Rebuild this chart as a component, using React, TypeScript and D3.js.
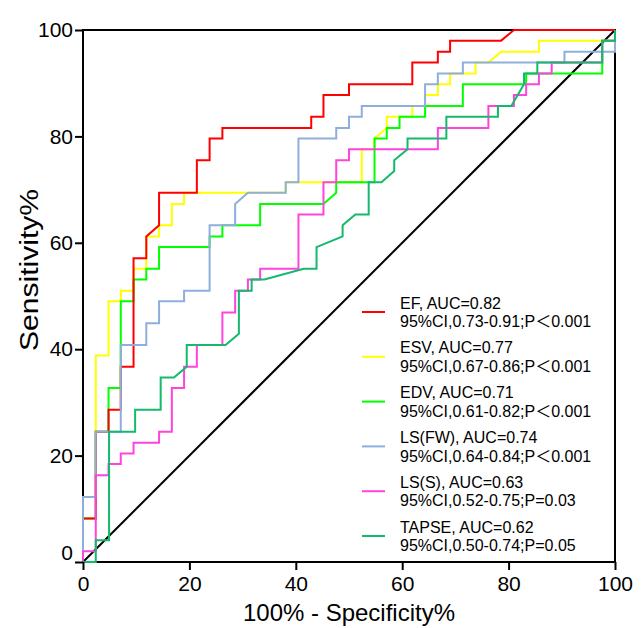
import React, { useRef, useEffect } from 'react';
import * as d3 from 'd3';

// ROC points: [100% - specificity, sensitivity]
const efPoints = [[0,0],[0,8.2],[2.4,8.2],[2.4,24.5],[4.8,24.5],[4.8,28.6],[7.1,28.6],[7.1,36.7],[9.5,36.7],[9.5,57.1],[11.9,57.1],[11.9,61.2],[14.3,63.3],[14.3,69.4],[21.4,69.4],[21.4,75.5],[23.8,75.5],[23.8,79.6],[26.2,79.6],[26.2,81.6],[42.9,81.6],[42.9,83.7],[45.2,83.7],[45.2,87.8],[50,87.8],[50,89.8],[61.9,89.8],[61.9,93.9],[66.7,93.9],[66.7,95.9],[69,95.9],[69,98],[78.6,98],[81,100],[100,100]];
const esvPoints = [[0,0],[0,12.2],[2.4,12.2],[2.4,38.8],[4.8,38.8],[4.8,49],[7.1,49],[7.1,51],[9.5,51],[9.5,55.1],[11.9,55.1],[11.9,61.2],[14.3,61.2],[14.3,63.3],[16.7,63.3],[16.7,67.3],[19,67.3],[19,69.4],[38.1,69.4],[38.1,71.4],[52.4,71.4],[52.4,77.6],[54.8,77.6],[54.8,79.6],[57.1,81.6],[57.1,83.7],[61.9,83.7],[61.9,85.7],[64.3,85.7],[64.3,87.8],[66.7,87.8],[66.7,89.8],[69,89.8],[69,91.8],[73.8,91.8],[73.8,93.9],[76.2,93.9],[78.6,95.9],[85.7,95.9],[85.7,98],[100,98],[100,100]];
const edvPoints = [[0,0],[0,8.2],[2.4,8.2],[2.4,24.5],[4.8,24.5],[4.8,32.7],[7.1,32.7],[7.1,49],[9.5,49],[9.5,53.1],[11.9,53.1],[11.9,55.1],[14.3,55.1],[14.3,59.2],[23.8,59.2],[23.8,61.2],[26.2,61.2],[26.2,63.3],[33.3,63.3],[33.3,67.3],[45.2,67.3],[47.6,69.4],[47.6,71.4],[54.8,71.4],[54.8,79.6],[57.1,79.6],[57.1,81.6],[59.5,81.6],[59.5,83.7],[64.3,83.7],[64.3,85.7],[71.4,85.7],[71.4,89.8],[83.3,89.8],[83.3,91.8],[97.6,91.8],[97.6,98],[100,98],[100,100]];
const lsfwPoints = [[0,0],[0,12.2],[2.4,12.2],[2.4,24.5],[7.1,24.5],[7.1,40.8],[11.9,40.8],[11.9,44.9],[14.3,44.9],[14.3,49],[19,49],[19,51],[23.8,51],[23.8,63.3],[28.6,63.3],[28.6,67.3],[31,69.4],[38.1,69.4],[38.1,71.4],[40.5,71.4],[40.5,79.6],[47.6,79.6],[47.6,81.6],[50,81.6],[50,83.7],[52.4,83.7],[52.4,85.7],[64.3,85.7],[64.3,89.8],[66.7,89.8],[66.7,91.8],[71.4,91.8],[71.4,93.9],[90.5,93.9],[90.5,95.9],[100,95.9],[100,100]];
const lssPoints = [[0,0],[0,2],[2.4,2],[2.4,16.3],[4.8,16.3],[4.8,18.4],[7.1,18.4],[7.1,20.4],[9.5,20.4],[9.5,22.4],[14.3,22.4],[14.3,24.5],[16.7,24.5],[16.7,32.7],[19,32.7],[19,36.7],[21.4,36.7],[21.4,40.8],[26.2,40.8],[26.2,46.9],[28.6,46.9],[28.6,51],[31,51],[31,53.1],[33.3,53.1],[33.3,55.1],[40.5,55.1],[40.5,65.3],[45.2,65.3],[45.2,71.4],[47.6,71.4],[47.6,75.5],[50,75.5],[50,77.6],[66.7,77.6],[66.7,81.6],[76.2,81.6],[76.2,85.7],[81,85.7],[81,87.8],[83.3,87.8],[83.3,89.8],[85.7,89.8],[85.7,91.8],[88.1,91.8],[88.1,93.9],[97.6,93.9],[97.6,98],[100,98],[100,100]];
const tapsePoints = [[0,0],[2.4,0],[2.4,4.1],[4.9,4.1],[4.9,24.5],[9.8,24.5],[9.8,28.6],[14.6,28.6],[14.6,34.7],[17.1,34.7],[19.5,36.7],[19.5,40.8],[26.8,40.8],[29.3,42.9],[29.3,51],[31.7,51],[31.7,53.1],[34.1,53.1],[41.5,55.1],[43.9,55.1],[43.9,59.2],[48.8,61.2],[48.8,63.3],[51.2,65.3],[53.7,65.3],[53.7,71.4],[56.1,71.4],[58.5,73.5],[58.5,75.5],[61,77.6],[61,79.6],[68.3,79.6],[68.3,83.7],[78,83.7],[78,85.7],[80.5,85.7],[82.9,89.8],[82.9,91.8],[85.4,91.8],[85.4,93.9],[97.6,93.9],[97.6,98],[100,98],[100,100]];

const legendNames = ['EF', 'ESV', 'EDV', 'LS(FW)', 'LS(S)', 'TAPSE'];
const aucLabels = ['AUC=0.82', 'AUC=0.77', 'AUC=0.71', 'AUC=0.74', 'AUC=0.63', 'AUC=0.62'];
const ciLabels = [
  '95%CI,0.73-0.91;P＜0.001',
  '95%CI,0.67-0.86;P＜0.001',
  '95%CI,0.61-0.82;P＜0.001',
  '95%CI,0.64-0.84;P＜0.001',
  '95%CI,0.52-0.75;P=0.03',
  '95%CI,0.50-0.74;P=0.05'
];
const xTicks = [0, 20, 40, 60, 80, 100];
const yTicks = [0, 20, 40, 60, 80, 100];

const colors = {
  EF: '#ff0000',
  ESV: '#ffff00',
  EDV: '#00ff00',
  'LS(FW)': '#8eaedb',
  'LS(S)': '#ff44dd',
  TAPSE: '#14b96c'
};

const FONT = '"Liberation Sans", Arial, "Noto Sans CJK SC", sans-serif';

const App = () => {
  const chartRef = useRef<SVGSVGElement>(null);

  useEffect(() => {
    const width = 644;
    const height = 628;
    const marginTop = 30;
    const marginRight = 29;
    const marginBottom = 66;
    const marginLeft = 83;

    const svg = d3.select(chartRef.current);
    svg.selectAll('*').remove();

    const x = d3.scaleLinear().domain([0, 100]).range([marginLeft, width - marginRight]);
    const y = d3.scaleLinear().domain([0, 100]).range([height - marginBottom, marginTop]);

    const line = d3.line<number[]>()
      .x(d => x(d[0]))
      .y(d => y(d[1]));

    // frame + reference diagonal
    svg.append('rect')
      .attr('x', x(0)).attr('y', y(100))
      .attr('width', x(100) - x(0)).attr('height', y(0) - y(100))
      .attr('fill', 'none').attr('stroke', '#000').attr('stroke-width', 2);

    svg.append('line')
      .attr('x1', x(0)).attr('y1', y(0))
      .attr('x2', x(100)).attr('y2', y(100))
      .attr('stroke', '#000').attr('stroke-width', 2);

    // draw order as seen in the picture (later ones on top)
    const drawn: [string, number[][]][] = [
      ['ESV', esvPoints],
      ['EDV', edvPoints],
      ['EF', efPoints],
      ['LS(FW)', lsfwPoints],
      ['LS(S)', lssPoints],
      ['TAPSE', tapsePoints]
    ];
    const curves = svg.append('g');
    drawn.forEach(([name, pts]) => {
      curves.append('path')
        .datum(pts)
        .attr('fill', 'none')
        .attr('stroke', colors[name])
        .attr('stroke-width', 2)
        .attr('d', line);
    });

    // axes
    const xAxis = svg.append('g')
      .attr('transform', `translate(0,${y(0)})`)
      .call(d3.axisBottom(x).tickValues(xTicks).tickSize(8).tickPadding(6).tickFormat(d3.format('d')));
    const yAxis = svg.append('g')
      .attr('transform', `translate(${x(0)},0)`)
      .call(d3.axisLeft(y).tickValues(yTicks).tickSize(8).tickPadding(2).tickFormat(d3.format('d')));

    [xAxis, yAxis].forEach(g => {
      g.select('.domain').remove();
      g.selectAll('.tick line').attr('stroke', '#000').attr('stroke-width', 2);
      g.selectAll('.tick text')
        .attr('fill', '#000')
        .style('font-family', FONT)
        .style('font-size', '21px');
    });
    yAxis.selectAll('.tick text').filter(d => d === 0).attr('dy', '-0.1em');

    svg.append('text')
      .attr('x', (x(0) + x(100)) / 2)
      .attr('y', 621)
      .attr('text-anchor', 'middle')
      .style('font-family', FONT)
      .style('font-size', '24px')
      .text('100% - Specificity%');

    svg.append('text')
      .attr('transform', `translate(38,270) rotate(-90)`)
      .attr('text-anchor', 'middle')
      .attr('textLength', 162)
      .attr('lengthAdjust', 'spacingAndGlyphs')
      .style('font-family', FONT)
      .style('font-size', '25px')
      .text('Sensitivity%');

    // legend
    const legend = svg.append('g');
    legendNames.forEach((name, i) => {
      const cy = 312 + i * 44.8;
      legend.append('line')
        .attr('x1', 362).attr('x2', 385)
        .attr('y1', cy).attr('y2', cy)
        .attr('stroke', colors[name]).attr('stroke-width', 2);
      const t = legend.append('text')
        .style('font-family', FONT)
        .style('font-size', '16px')
        .attr('fill', '#000');
      t.append('tspan').attr('x', 400).attr('y', cy - 3.5).text(`${name}, ${aucLabels[i]}`);
      t.append('tspan').attr('x', 400).attr('y', cy + 15.2).text(ciLabels[i]);
    });
  }, []);

  return (
    <svg
      ref={chartRef}
      width={644}
      height={628}
      style={{ position: 'absolute', left: 0, top: 0, background: '#fff' }}
    />
  );
};

export default App;
